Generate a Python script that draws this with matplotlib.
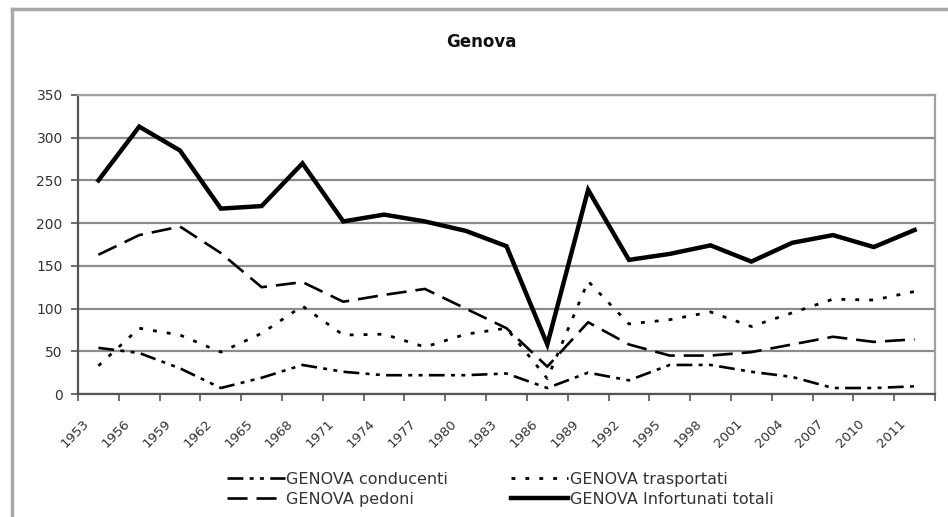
import numpy as np
import matplotlib
matplotlib.use("Agg")
import matplotlib.pyplot as plt
import matplotlib.transforms as mtransforms
from matplotlib.lines import Line2D

# categorie (anni) e serie
anni = ["1953", "1956", "1959", "1962", "1965", "1968", "1971", "1974", "1977",
        "1980", "1983", "1986", "1989", "1992", "1995", "1998", "2001", "2004",
        "2007", "2010", "2011"]
conducenti = [54, 48, 30, 7, 19, 34, 26, 22, 22, 22, 24, 7, 25, 16, 34, 34, 26, 20, 7, 7, 9]
trasportati = [33, 77, 69, 49, 71, 103, 69, 70, 55, 70, 77, 18, 132, 82, 87, 96, 79, 95, 111, 110, 120]
pedoni = [163, 186, 196, 165, 125, 131, 108, 116, 123, 100, 77, 32, 84, 58, 45, 45, 49, 58, 67, 61, 64]
totali = [250, 313, 285, 217, 220, 270, 202, 210, 202, 191, 173, 58, 239, 157, 164, 174, 155, 177, 186, 172, 192]

nomi = ["GENOVA conducenti", "GENOVA trasportati", "GENOVA pedoni", "GENOVA Infortunati totali"]

plt.rcParams["font.family"] = ["DejaVu Sans"]

fig = plt.figure(figsize=(9.48, 5.17), dpi=100)
ax = fig.add_axes([78 / 948, 1 - 394 / 517, (935 - 78) / 948, (394 - 95) / 517])

x = np.arange(len(anni))

# stili tratteggio simili a Excel
st_cond = (0, (6, 2.4, 1.5, 2.4, 1.5, 2.4))
st_trasp = (0, (1.4, 3.6))
st_ped = (0, (7.6, 3.4))

ax.plot(x, conducenti, color="black", lw=1.9, linestyle=st_cond, zorder=3)
ax.plot(x, trasportati, color="black", lw=2.0, linestyle=st_trasp, zorder=3)
ax.plot(x, pedoni, color="black", lw=1.9, linestyle=st_ped, zorder=3)
ax.plot(x, totali, color="black", lw=3.2, solid_joinstyle="miter", zorder=4)

ax.set_xlim(-0.5, len(anni) - 0.5)
ax.set_ylim(0, 350)
ax.set_yticks(np.arange(0, 351, 50))
ax.yaxis.grid(True, color="#8c8c8c", lw=1.6)
ax.set_axisbelow(True)

# tacche tra le categorie, etichette al centro
ax.set_xticks(np.arange(-0.5, len(anni), 1.0))
ax.set_xticklabels([])
ax.tick_params(axis="x", which="major", length=5, width=1.2, color="#555555", direction="out")
ax.set_xticks(x, minor=True)
ax.set_xticklabels(anni, minor=True, rotation=45, ha="right", va="center",
                   rotation_mode="anchor", fontsize=9.5, color="#333333")
ax.tick_params(axis="x", which="minor", length=0, pad=20)
offset = mtransforms.ScaledTranslation(-8 / 72, 0, fig.dpi_scale_trans)
for lab in ax.xaxis.get_minorticklabels():
    lab.set_transform(lab.get_transform() + offset)

ax.tick_params(axis="y", length=5, width=1.2, color="#555555", labelsize=10,
               labelcolor="#333333", pad=6)

for s in ["left", "bottom"]:
    ax.spines[s].set_color("#555555")
    ax.spines[s].set_linewidth(1.6)
for s in ["top", "right"]:
    ax.spines[s].set_color("#a0a0a0")
    ax.spines[s].set_linewidth(1.6)

fig.text(481 / 948, 1 - 42 / 517, "Genova", ha="center", va="center",
         fontsize=12, fontweight="bold", color="#111111")

# bordo esterno del grafico
fig.add_artist(Line2D([12 / 948, 12 / 948], [0, 1 - 9 / 517], transform=fig.transFigure,
                      color="#a8a8a8", lw=2.5))
fig.add_artist(Line2D([12 / 948, 1], [1 - 9 / 517, 1 - 9 / 517], transform=fig.transFigure,
                      color="#a8a8a8", lw=2.5))

h_cond = Line2D([], [], color="black", lw=1.9, linestyle=st_cond)
h_trasp = Line2D([], [], color="black", lw=2.0, linestyle=st_trasp)
h_ped = Line2D([], [], color="black", lw=1.9, linestyle=st_ped)
h_tot = Line2D([], [], color="black", lw=3.2)
# legend riempita per colonne: ordine scelto per avere le righe giuste
fig.legend([h_cond, h_ped, h_trasp, h_tot], [nomi[0], nomi[2], nomi[1], nomi[3]],
           loc="upper left", bbox_to_anchor=(227 / 948, 1 - 472 / 517),
           ncol=2, frameon=False, fontsize=11.5, handlelength=3.6, handletextpad=0.12,
           columnspacing=3.9, labelspacing=0.3, borderpad=0, borderaxespad=0,
           labelcolor="#333333")

fig.savefig("out.png", dpi=100, facecolor="white")
